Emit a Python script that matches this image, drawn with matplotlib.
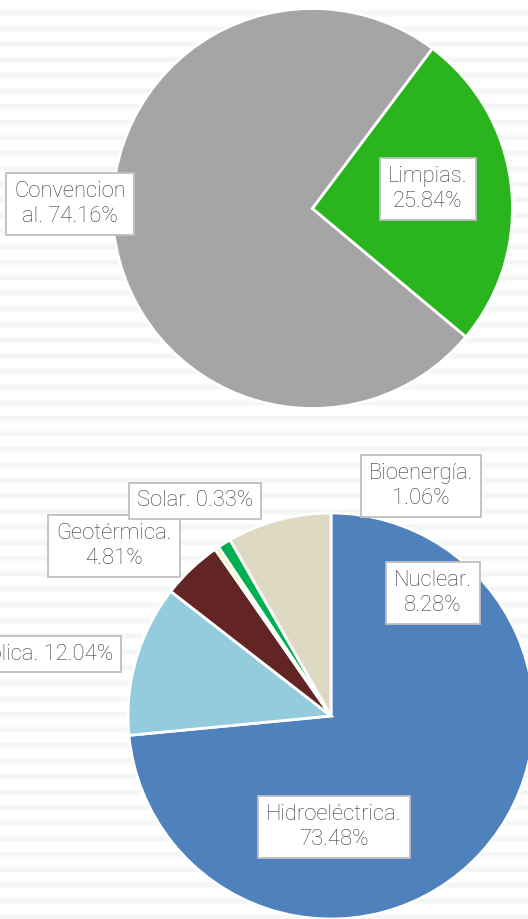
import matplotlib.pyplot as plt
import numpy as np

W, H = 528, 919

# top pie: conventional vs clean
top_labels = ["Convencional", "Limpias"]
top_values = [74.16, 25.84]
top_colors = ["#A5A5A5", "#2AB41E"]

# bottom pie: breakdown of clean sources
bot_labels = ["Hidroeléctrica", "Eólica", "Geotérmica", "Solar", "Bioenergía", "Nuclear"]
bot_values = [73.48, 12.04, 4.81, 0.33, 1.06, 8.28]
bot_colors = ["#4F81BD", "#93CDDD", "#632523", "#F5EE60", "#00B050", "#DDD9C3"]

# label texts as shown in the picture (some wrap oddly)
top_texts = ["Convencion\nal. 74.16%", "Limpias.\n25.84%"]
bot_texts = ["Hidroeléctrica.\n73.48%", "Eólica. 12.04%", "Geotérmica.\n4.81%",
             "Solar. 0.33%", "Bioenergía.\n1.06%", "Nuclear.\n8.28%"]

plt.rcParams['font.family'] = ['Roboto', 'DejaVu Sans']

fig = plt.figure(figsize=(W / 100, H / 100), dpi=100)
ax = fig.add_axes([0, 0, 1, 1])

# striped background
y = 13.0
while y < H + 10:
    ax.axhspan(H - y - 3.5, H - y + 3.5, color='#FAFBFB', lw=0, zorder=0)
    ax.axhspan(H - y - 2, H - y + 2, color='#F4F6F6', lw=0, zorder=0)
    y += 15.58

wedge = dict(edgecolor='white', linewidth=2)

ax.pie(top_values, colors=top_colors, startangle=-39.9, counterclock=False,
       center=(312.5, H - 208.5), radius=200, wedgeprops=wedge, frame=True)
ax.pie(bot_values, colors=bot_colors, startangle=90, counterclock=False,
       center=(331, H - 716), radius=203, wedgeprops=wedge, frame=True)
ax.set_xlim(0, W)
ax.set_ylim(0, H)
ax.set_aspect('equal')
ax.axis('off')

box = dict(boxstyle='square,pad=0.36', fc='white', ec='#BFBFBF', lw=1.3)
txt = dict(fontsize=15.8, color='#3A3A3A', fontweight='light', linespacing=1.25,
           va='center', bbox=box, zorder=5)

top_pos = [(70, 204), (428, 189)]
for t, (px, py) in zip(top_texts, top_pos):
    ax.text(px, H - py, t, ha='center', **txt)

bot_pos = [(334, 827), (113, 654), (114, 546), (195, 501), (421, 486), (433, 593)]
for t, (px, py) in zip(bot_texts, bot_pos):
    if t.startswith("Eólica"):
        ax.text(px, H - py, t, ha='right', **txt)
    else:
        ax.text(px, H - py, t, ha='center', **txt)

fig.savefig('out.png', dpi=100)
